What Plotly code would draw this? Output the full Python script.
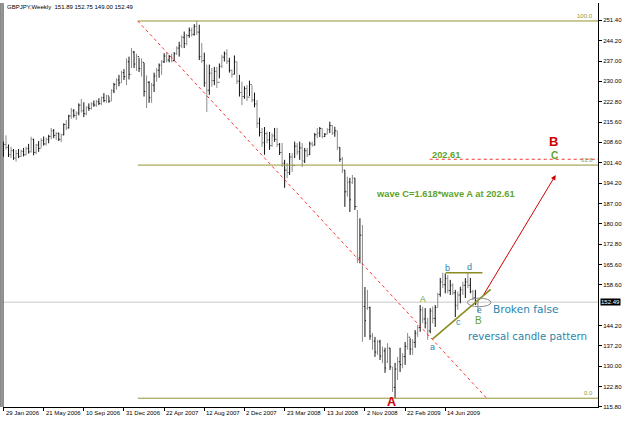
import plotly.graph_objects as go

# ---------------- data (GBPJPY weekly) ----------------
WEEK = list(range(190))
OPEN = [204.5,207.8,206.8,204.2,205.6,203.0,204.6,203.6,205.4,204.2,
        206.4,205.2,209.6,205.0,207.6,206.4,209.2,208.0,209.6,210.6,
        212.6,211.0,211.6,209.6,211.2,214.8,213.6,217.8,219.6,218.0,
        218.8,221.6,219.6,218.6,220.8,220.4,222.0,221.6,222.8,222.2,
        224.2,223.2,224.8,223.0,226.6,228.8,230.4,229.4,233.0,231.6,
        236.8,232.4,240.2,236.0,238.6,234.4,236.6,226.4,229.6,224.2,
        228.6,231.8,233.8,235.6,236.8,238.8,237.4,238.6,237.2,239.6,
        241.6,242.4,245.4,243.2,246.0,247.8,246.4,249.2,247.2,238.6,
        237.2,229.4,226.8,232.8,230.2,233.4,229.6,235.2,238.4,239.6,
        237.0,233.8,232.4,236.8,230.0,226.0,224.6,227.4,224.4,228.8,
        223.4,222.0,215.2,212.0,208.4,211.6,209.4,207.4,210.8,209.6,
        207.8,205.0,201.2,198.8,198.0,203.4,200.4,207.2,205.2,206.6,
        202.0,205.6,204.2,208.0,207.6,211.2,211.8,213.4,210.6,211.4,
        213.0,214.4,211.8,212.6,206.8,202.6,198.8,191.2,194.6,194.4,
        196.0,186.0,168.0,176.0,151.0,150.4,150.6,140.6,138.8,135.0,
        138.6,133.6,135.4,131.6,136.4,129.8,122.6,129.0,131.6,130.6,
        133.4,137.0,140.2,136.0,138.4,141.6,143.6,149.8,146.6,145.2,
        142.4,149.4,146.8,150.6,155.2,159.6,158.6,160.8,156.6,158.4,
        155.8,151.4,155.0,156.8,158.4,159.6,158.4,156.2,154.0,151.89]
HIGH = [208.8,211.0,207.8,207.0,206.2,205.9,206.2,206.0,206.6,207.0,
        208.0,210.5,209.8,208.0,209.0,210.0,210.6,210.2,211.2,213.6,
        213.2,212.2,212.0,211.6,215.2,216.4,218.2,220.6,220.2,219.4,
        222.2,223.8,222.6,221.2,222.2,222.6,223.2,223.4,224.0,224.6,
        225.8,225.2,224.6,227.2,229.4,231.0,232.2,233.6,234.2,238.0,
        238.6,241.6,240.6,239.6,238.2,238.0,236.4,232.0,230.0,229.4,
        233.0,234.6,236.2,237.4,239.8,240.0,239.2,239.6,240.2,242.2,
        243.8,246.0,247.4,246.6,248.8,248.8,250.0,251.1,249.8,243.4,
        240.0,235.8,235.8,234.6,235.0,235.0,236.2,239.2,240.4,241.2,
        238.2,234.0,239.0,236.8,232.2,229.8,228.2,228.6,230.2,228.6,
        226.0,223.4,217.2,213.6,213.9,212.3,212.2,211.8,213.6,213.6,
        208.3,208.3,202.4,201.3,204.8,204.8,208.8,208.3,208.8,208.3,
        206.6,206.6,208.8,208.8,211.8,213.6,213.9,213.4,211.8,213.5,
        215.8,214.6,214.0,212.6,206.8,203.4,198.8,196.5,196.1,197.1,
        196.0,184.8,181.9,179.6,157.8,156.8,150.9,141.7,140.3,139.3,
        139.3,136.9,136.5,138.1,136.4,129.8,131.2,133.3,136.5,134.6,
        138.5,141.7,139.8,139.5,142.7,144.5,151.5,150.9,150.4,147.0,
        150.4,151.0,151.5,155.8,161.0,162.8,162.6,162.0,160.3,159.1,
        156.8,156.2,157.9,159.7,160.9,162.8,161.0,156.8,156.8,152.75]
LOW = [203.5,206.0,203.4,203.0,202.4,201.8,203.0,203.4,203.6,204.0,
       204.6,205.0,204.0,204.4,205.2,206.6,207.4,207.4,208.2,209.6,
       210.0,209.4,209.0,208.6,211.0,212.9,213.4,216.8,217.2,216.4,
       218.0,219.0,217.4,218.0,219.6,220.0,221.0,221.0,221.6,221.6,
       222.6,222.4,222.4,223.0,225.8,227.0,228.2,229.4,230.4,228.6,
       230.6,234.6,234.6,233.6,233.2,231.6,224.6,220.6,222.4,222.4,
       226.2,229.8,231.2,232.2,236.4,236.6,236.6,236.6,237.0,239.2,
       238.6,241.6,241.6,242.6,245.2,245.6,246.0,246.2,237.4,236.4,
       228.0,219.2,225.2,228.0,228.6,227.6,231.0,234.6,236.9,236.0,
       233.0,231.2,232.4,229.0,224.6,221.6,223.8,223.0,224.8,222.6,
       220.8,213.6,210.6,207.0,204.2,208.2,205.9,206.9,208.7,206.9,
       204.1,199.9,192.6,196.0,197.1,198.2,203.0,204.1,202.4,199.9,
       201.3,203.4,204.1,207.0,207.4,210.0,210.4,209.9,210.4,211.4,
       211.8,211.1,210.5,205.9,201.7,197.8,185.9,189.5,184.1,194.0,
       184.8,166.2,166.1,138.6,140.3,149.8,139.3,135.8,133.3,134.0,
       132.2,131.1,127.7,131.1,128.7,121.0,118.8,125.2,128.0,129.3,
       130.5,135.8,134.0,134.0,136.5,140.3,142.1,145.1,143.3,139.3,
       141.6,145.0,143.8,150.6,154.4,157.4,155.6,155.6,155.0,155.0,
       147.3,149.8,152.1,155.0,153.9,157.4,155.6,153.3,151.5,149.00]
CLOSE = [207.8,206.8,204.2,205.6,203.0,204.6,203.6,205.4,204.2,206.4,
         205.2,209.6,205.0,207.6,206.4,209.2,208.0,209.6,210.6,212.6,
         211.0,211.6,209.6,211.2,214.8,213.6,217.8,219.6,218.0,218.8,
         221.6,219.6,218.6,220.8,220.4,222.0,221.6,222.8,222.2,224.2,
         223.2,224.8,223.0,226.6,228.8,230.4,229.4,233.0,231.6,236.8,
         232.4,240.2,236.0,238.6,234.4,236.6,226.4,229.6,224.2,228.6,
         231.8,233.8,235.6,236.8,238.8,237.4,238.6,237.2,239.6,241.6,
         242.4,245.4,243.2,246.0,247.8,246.4,249.2,247.2,238.6,237.2,
         229.4,226.8,232.8,230.2,233.4,229.6,235.2,238.4,239.6,237.0,
         233.8,232.4,236.8,230.0,226.0,224.6,227.4,224.4,228.8,223.4,
         222.0,215.2,212.0,208.4,211.6,209.4,207.4,210.8,209.6,207.8,
         205.0,201.2,198.8,198.0,203.4,200.4,207.2,205.2,206.6,202.0,
         205.6,204.2,208.0,207.6,211.2,211.8,213.4,210.6,211.4,213.0,
         214.4,211.8,212.6,206.8,202.6,198.8,191.2,194.6,188.4,196.0,
         186.0,168.0,176.0,151.0,146.0,150.6,140.6,138.8,135.0,138.6,
         133.6,135.4,129.4,136.4,129.8,122.6,129.0,131.6,130.6,133.4,
         137.0,140.2,136.0,138.4,141.6,143.6,149.8,146.6,145.2,142.4,
         149.4,146.8,150.6,155.2,159.6,158.6,160.8,156.6,158.4,155.8,
         151.4,155.0,156.8,158.4,159.6,158.4,156.2,154.0,151.9,152.49]

DATE_LABELS = ["29 Jan 2006", "21 May 2006", "10 Sep 2006", "31 Dec 2006",
               "22 Apr 2007", "12 Aug 2007", "2 Dec 2007", "23 Mar 2008",
               "13 Jul 2008", "2 Nov 2008", "22 Feb 2009", "14 Jun 2009"]
DATE_LABEL_WEEKS = [0, 16, 32, 48, 64, 80, 96, 112, 128, 144, 160, 176]
PRICE_LABELS = ["251.40", "244.20", "237.00", "230.00", "222.80", "215.60",
                "208.60", "201.40", "194.20", "187.00", "180.00", "172.80",
                "165.60", "158.60", "144.20", "137.20", "130.00", "122.80",
                "115.80"]

FIB_HIGH = 251.10
FIB_LOW = 118.80
FIB_START = 53.5
FIB_END = 192.5
FIB_618 = FIB_LOW + 0.618 * (FIB_HIGH - FIB_LOW)
TARGET = 202.61
LAST = 152.49

X_RANGE = [-0.2, 236.85]
Y_RANGE = [115.72, 257.41]

OLIVE = "#949432"
GREEN = "#62a42a"
TEAL = "#2a86ac"
RED = "#cc0000"
FONT = "Liberation Sans"

fig = go.Figure()
# bars drawn in two passes (alternate bars render darker / lighter as in the screenshot)
for parity, col in ((0, "#111111"), (1, "#8c8c8c")):
    idx = [i for i in WEEK if i % 2 == parity]
    fig.add_trace(go.Ohlc(
        x=[WEEK[i] for i in idx], open=[OPEN[i] for i in idx], high=[HIGH[i] for i in idx],
        low=[LOW[i] for i in idx], close=[CLOSE[i] for i in idx],
        increasing=dict(line=dict(color=col, width=1)),
        decreasing=dict(line=dict(color=col, width=1)),
        tickwidth=0.2, hoverinfo="skip", showlegend=False))

shapes = []
shapes.append(dict(type="line", xref="paper", x0=0, x1=1, yref="y", y0=LAST, y1=LAST,
                   line=dict(color="#c8c8c8", width=1), layer="below"))
for lvl in (FIB_HIGH, FIB_618, FIB_LOW):
    shapes.append(dict(type="line", xref="x", x0=FIB_START, x1=X_RANGE[1], yref="y",
                       y0=lvl, y1=lvl, line=dict(color=OLIVE, width=1)))
shapes.append(dict(type="line", xref="x", x0=FIB_START, x1=FIB_END, yref="y",
                   y0=FIB_HIGH, y1=FIB_LOW, line=dict(color="#ff3030", width=1, dash="dot")))
shapes.append(dict(type="line", xref="x", x0=169.8, x1=X_RANGE[1], yref="y",
                   y0=TARGET, y1=TARGET, line=dict(color="#ff3030", width=1, dash="dot")))
shapes.append(dict(type="line", xref="x", yref="y", x0=170.9, y0=139.5, x1=194.1, y1=157.0,
                   line=dict(color="#8c8c1e", width=1.6)))
shapes.append(dict(type="line", xref="x", yref="y", x0=176.2, y0=162.8, x1=190.8, y1=162.8,
                   line=dict(color="#8c8c1e", width=1.6)))
shapes.append(dict(type="circle", xref="x", yref="y", x0=184.8, x1=194.2, y0=150.9, y1=153.9,
                   line=dict(color="#8a8a8a", width=1)))
for xp in (0, -0.0034):
    shapes.append(dict(type="line", xref="paper", yref="paper", x0=xp, x1=xp, y0=0, y1=1,
                       line=dict(color="#222222", width=1)))

ann = []
def text(t, x, y, color, size, bold=False, xanchor="center", yanchor="middle", family=FONT):
    ann.append(dict(text=("<b>%s</b>" % t) if bold else t, x=x, y=y, xref="x", yref="y",
                    showarrow=False, xanchor=xanchor, yanchor=yanchor,
                    font=dict(color=color, size=size, family=family)))

text("wave C=1.618*wave A at 202.61", 147.5, 190.6, GREEN, 9.3, True, "left")
text("202.61", 169.8, 204.1, GREEN, 9.3, True, "left")
text("C", 219.6, 203.9, GREEN, 10, True)
text("B", 219.0, 208.7, RED, 13, True)
text("A", 167.1, 153.7, GREEN, 8.5)
text("a", 170.9, 136.9, TEAL, 9)
text("b", 177.0, 164.4, TEAL, 9)
text("d", 185.6, 164.7, TEAL, 9)
text("c", 181.2, 145.6, TEAL, 9)
text("e", 189.7, 149.8, TEAL, 8.5)
text("B", 189.4, 146.2, GREEN, 10)
text("Broken false", 194.2, 150.2, TEAL, 10.6, False, "left", family="DejaVu Sans")
text("reversal candle pattern", 184.3, 140.3, TEAL, 10.2, False, "left", family="DejaVu Sans")
text("A", 154.5, 117.3, RED, 12.5, True)

ann.append(dict(x=220.0, y=197.1, ax=191.0, ay=154.7, xref="x", yref="y", axref="x", ayref="y",
                showarrow=True, arrowhead=2, arrowsize=1, arrowwidth=1, arrowcolor=RED, text=""))

for lbl, lvl in (("100.0", FIB_HIGH), ("61.8", FIB_618), ("0.0", FIB_LOW)):
    ann.append(dict(text=lbl, xref="paper", x=0.995, yref="y", y=lvl, xanchor="right",
                    yanchor="bottom", showarrow=False, font=dict(color=OLIVE, size=6, family=FONT)))

ann.append(dict(text="GBPJPY,Weekly  151.89 152.75 149.00 152.49", xref="paper", yref="paper",
                x=0.004, y=0.99, xanchor="left", yanchor="middle", showarrow=False,
                font=dict(color="black", size=6, family=FONT)))
ann.append(dict(text="152.49", xref="paper", x=1, xshift=2, yref="y", y=LAST, xanchor="left",
                yanchor="middle", showarrow=False, bgcolor="black", borderpad=0,
                font=dict(color="white", size=6, family=FONT)))
for lbl, w in zip(DATE_LABELS, DATE_LABEL_WEEKS):
    ann.append(dict(text=lbl, x=w, xref="x", y=0, yref="paper", xanchor="left", yanchor="top",
                    yshift=-1, showarrow=False,
                    font=dict(color="black", size=6, family=FONT)))

fig.update_layout(
    width=625, height=421, margin=dict(l=3, r=27, t=3, b=14),
    paper_bgcolor="white", plot_bgcolor="white",
    shapes=shapes, annotations=ann, showlegend=False,
    xaxis=dict(range=X_RANGE, rangeslider=dict(visible=False), showgrid=False, zeroline=False,
               showline=True, linecolor="black", linewidth=1, ticks="outside", ticklen=3,
               tickcolor="black", tickvals=DATE_LABEL_WEEKS, showticklabels=False, fixedrange=True),
    yaxis=dict(range=Y_RANGE, side="right", showgrid=False, zeroline=False, showline=True,
               linecolor="black", linewidth=1, ticks="outside", ticklen=3, tickcolor="black",
               tickvals=[float(v) for v in PRICE_LABELS], ticktext=PRICE_LABELS,
               tickfont=dict(size=6, family=FONT, color="black"), fixedrange=True),
)

fig.write_html("out.html")
